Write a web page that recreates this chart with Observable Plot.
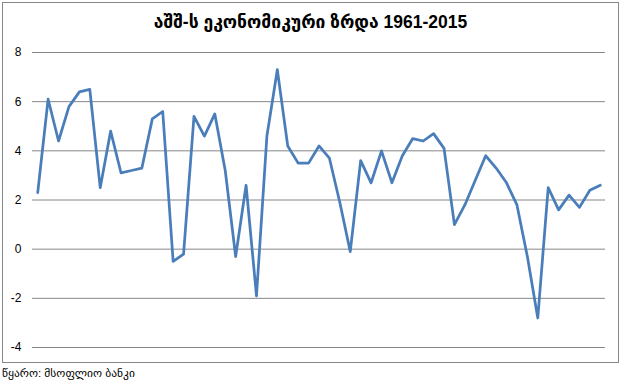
<!DOCTYPE html>
<html>
<head>
<meta charset="utf-8">
<script src="https://cdn.jsdelivr.net/npm/d3@7"></script>
<script src="https://cdn.jsdelivr.net/npm/@observablehq/plot@0.6"></script>
<style>
  body { margin: 0; background: #fff; font-family: "Liberation Sans", "DejaVu Sans", sans-serif; }
  #frame { position: absolute; left: 2px; top: 2px; width: 615px; border: 1px solid #888; background: #fff; }
  #title { height: 37px; line-height: 39px; text-align: center; font-weight: bold; font-size: 17.5px; color: #000; }
  #chart svg { display: block; }
  #caption { position: absolute; left: 2px; top: 366px; font-size: 11.5px; color: #000; }
</style>
</head>
<body>
<div id="frame">
  <div id="title">აშშ-ს ეკონომიკური ზრდა 1961-2015</div>
  <div id="chart"></div>
</div>
<div id="caption">წყარო: მსოფლიო  ბანკი</div>
<script>
const years = d3.range(1961, 2016);
const growth = [
  2.3, 6.1, 4.4, 5.8, 6.4, 6.5, 2.5, 4.8, 3.1, 3.2,
  3.3, 5.3, 5.6, -0.5, -0.2, 5.4, 4.6, 5.5, 3.2, -0.3,
  2.6, -1.9, 4.6, 7.3, 4.2, 3.5, 3.5, 4.2, 3.7, 1.9,
  -0.1, 3.6, 2.7, 4.0, 2.7, 3.8, 4.5, 4.4, 4.7, 4.1,
  1.0, 1.8, 2.8, 3.8, 3.3, 2.7, 1.8, -0.3, -2.8, 2.5,
  1.6, 2.2, 1.7, 2.4, 2.6
];
const yTicks = [-4, -2, 0, 2, 4, 6, 8];
const data = years.map((y, i) => ({year: y, value: growth[i]}));

const chart = Plot.plot({
  width: 615,
  height: 322,
  marginTop: 12,
  marginBottom: 15,
  marginLeft: 29,
  marginRight: 13,
  style: {fontFamily: '"Liberation Sans", "DejaVu Sans", sans-serif', fontSize: "12px", color: "#000", background: "#fff"},
  x: {type: "linear", domain: [years[0] - 0.5, years[years.length - 1] + 0.5], axis: null},
  y: {domain: [-4, 8], ticks: yTicks},
  marks: [
    Plot.gridY(yTicks, {stroke: "#868686", strokeOpacity: 1, strokeWidth: 1}),
    Plot.axisY(yTicks, {tickSize: 0, tickPadding: 11, label: null, tickFormat: d => d < 0 ? "-" + Math.abs(d) : String(d)}),
    Plot.line(data, {x: "year", y: "value", stroke: "#4a7ebb", strokeWidth: 2.75, strokeLinejoin: "round"})
  ]
});
document.getElementById("chart").appendChild(chart);
</script>
</body>
</html>
